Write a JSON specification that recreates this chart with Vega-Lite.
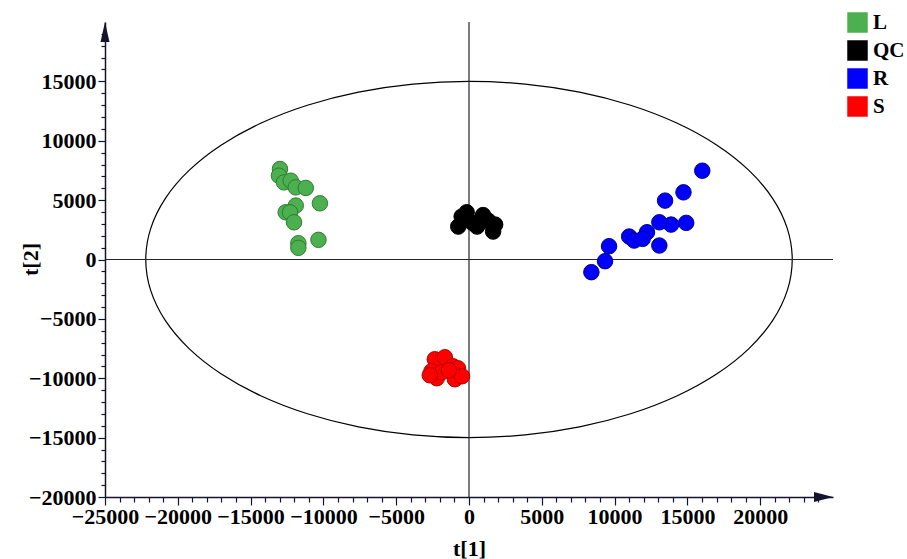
{
  "$schema": "https://vega.github.io/schema/vega-lite/v6.json",
  "width": 728,
  "height": 475,
  "autosize": {"type": "none"},
  "padding": {"left": 105, "top": 22, "right": 74, "bottom": 62},
  "background": "white",
  "config": {"view": {"stroke": null}, "font": "Liberation Serif"},
  "datasets": {
    "pts": [
      {"x": -12983, "y": 7621, "group": "L"},
      {"x": -13052, "y": 7059, "group": "L"},
      {"x": -12707, "y": 6495, "group": "L"},
      {"x": -12244, "y": 6638, "group": "L"},
      {"x": -11899, "y": 6075, "group": "L"},
      {"x": -11208, "y": 6025, "group": "L"},
      {"x": -11899, "y": 4538, "group": "L"},
      {"x": -12590, "y": 3975, "group": "L"},
      {"x": -12293, "y": 3975, "group": "L"},
      {"x": -12017, "y": 3134, "group": "L"},
      {"x": -10242, "y": 4731, "group": "L"},
      {"x": -11720, "y": 1370, "group": "L"},
      {"x": -11720, "y": 983, "group": "L"},
      {"x": -10338, "y": 1655, "group": "L"},
      {"x": -159, "y": 3975, "group": "QC"},
      {"x": -504, "y": 3613, "group": "QC"},
      {"x": -739, "y": 2773, "group": "QC"},
      {"x": 207, "y": 3109, "group": "QC"},
      {"x": 967, "y": 3739, "group": "QC"},
      {"x": 760, "y": 3109, "group": "QC"},
      {"x": 1312, "y": 3277, "group": "QC"},
      {"x": 1796, "y": 2941, "group": "QC"},
      {"x": 1657, "y": 2353, "group": "QC"},
      {"x": 552, "y": 2773, "group": "QC"},
      {"x": 16022, "y": 7479, "group": "R"},
      {"x": 14731, "y": 5655, "group": "R"},
      {"x": 13467, "y": 4958, "group": "R"},
      {"x": 14917, "y": 3084, "group": "R"},
      {"x": 13881, "y": 2941, "group": "R"},
      {"x": 13073, "y": 3134, "group": "R"},
      {"x": 12224, "y": 2294, "group": "R"},
      {"x": 11001, "y": 1933, "group": "R"},
      {"x": 11347, "y": 1597, "group": "R"},
      {"x": 11927, "y": 1739, "group": "R"},
      {"x": 13073, "y": 1176, "group": "R"},
      {"x": 9620, "y": 1118, "group": "R"},
      {"x": 9344, "y": -143, "group": "R"},
      {"x": 8405, "y": -1067, "group": "R"},
      {"x": -2348, "y": -8403, "group": "S"},
      {"x": -1657, "y": -8235, "group": "S"},
      {"x": -2576, "y": -9411, "group": "S"},
      {"x": -2210, "y": -9999, "group": "S"},
      {"x": -1865, "y": -9495, "group": "S"},
      {"x": -1105, "y": -8991, "group": "S"},
      {"x": -760, "y": -9159, "group": "S"},
      {"x": -967, "y": -10084, "group": "S"},
      {"x": -483, "y": -9832, "group": "S"},
      {"x": -1381, "y": -9327, "group": "S"},
      {"x": -2693, "y": -9747, "group": "S"}
    ],
    "ellipse": [
      {"i": 0, "x": 22200, "y": 0},
      {"i": 1, "x": 21863, "y": 2605},
      {"i": 2, "x": 20861, "y": 5130},
      {"i": 3, "x": 19226, "y": 7500},
      {"i": 4, "x": 17006, "y": 9642},
      {"i": 5, "x": 14270, "y": 11491},
      {"i": 6, "x": 11100, "y": 12990},
      {"i": 7, "x": 7593, "y": 14095},
      {"i": 8, "x": 3855, "y": 14772},
      {"i": 9, "x": 0, "y": 15000},
      {"i": 10, "x": -3855, "y": 14772},
      {"i": 11, "x": -7593, "y": 14095},
      {"i": 12, "x": -11100, "y": 12990},
      {"i": 13, "x": -14270, "y": 11491},
      {"i": 14, "x": -17006, "y": 9642},
      {"i": 15, "x": -19226, "y": 7500},
      {"i": 16, "x": -20861, "y": 5130},
      {"i": 17, "x": -21863, "y": 2605},
      {"i": 18, "x": -22200, "y": 0},
      {"i": 19, "x": -21863, "y": -2605},
      {"i": 20, "x": -20861, "y": -5130},
      {"i": 21, "x": -19226, "y": -7500},
      {"i": 22, "x": -17006, "y": -9642},
      {"i": 23, "x": -14270, "y": -11491},
      {"i": 24, "x": -11100, "y": -12990},
      {"i": 25, "x": -7593, "y": -14095},
      {"i": 26, "x": -3855, "y": -14772},
      {"i": 27, "x": 0, "y": -15000},
      {"i": 28, "x": 3855, "y": -14772},
      {"i": 29, "x": 7593, "y": -14095},
      {"i": 30, "x": 11100, "y": -12990},
      {"i": 31, "x": 14270, "y": -11491},
      {"i": 32, "x": 17006, "y": -9642},
      {"i": 33, "x": 19226, "y": -7500},
      {"i": 34, "x": 20861, "y": -5130},
      {"i": 35, "x": 21863, "y": -2605}
    ],
    "lines": [
      {"x": 0, "y": -20000, "x2": 0, "y2": 20000},
      {"x": -25000, "y": 0, "x2": 25000, "y2": 0}
    ],
    "arrowRight": [{"x": 25000, "y": -20000}],
    "arrowUp": [{"x": -25000, "y": 20000}]
  },
  "encoding": {
    "x": {
      "field": "x",
      "type": "quantitative",
      "scale": {"domain": [-25000, 25000], "nice": false, "zero": false},
      "axis": {
        "title": "t[1]",
        "values": [-25000,-24000,-23000,-22000,-21000,-20000,-19000,-18000,-17000,-16000,-15000,-14000,-13000,-12000,-11000,-10000,-9000,-8000,-7000,-6000,-5000,-4000,-3000,-2000,-1000,0,1000,2000,3000,4000,5000,6000,7000,8000,9000,10000,11000,12000,13000,14000,15000,16000,17000,18000,19000,20000,21000,22000,23000,24000],
        "format": "d",
        "labelExpr": "datum.value % 5000 === 0 ? datum.label : ''",
        "labelOverlap": false,
        "labelFlush": false,
        "labelFont": "Liberation Serif",
        "labelFontWeight": "bold",
        "labelFontSize": 22,
        "labelColor": "black",
        "labelPadding": 1,
        "tickSize": {"condition": {"test": "datum.value % 5000 === 0", "value": 8}, "value": 5},
        "tickColor": "#14142e",
        "tickWidth": 1.2,
        "domainColor": "#14142e",
        "domainWidth": 1.5,
        "grid": false,
        "titleFont": "Liberation Serif",
        "titleFontWeight": "bold",
        "titleFontSize": 22,
        "titleColor": "black",
        "titleY": 51,
        "titleBaseline": "middle"
      }
    },
    "y": {
      "field": "y",
      "type": "quantitative",
      "scale": {"domain": [-20000, 20000], "nice": false, "zero": false},
      "axis": {
        "title": "t[2]",
        "values": [-20000,-19000,-18000,-17000,-16000,-15000,-14000,-13000,-12000,-11000,-10000,-9000,-8000,-7000,-6000,-5000,-4000,-3000,-2000,-1000,0,1000,2000,3000,4000,5000,6000,7000,8000,9000,10000,11000,12000,13000,14000,15000,16000,17000,18000,19000],
        "format": "d",
        "labelExpr": "datum.value % 5000 === 0 ? datum.label : ''",
        "labelOverlap": false,
        "labelFlush": false,
        "labelFont": "Liberation Serif",
        "labelFontWeight": "bold",
        "labelFontSize": 22,
        "labelColor": "black",
        "labelPadding": 2,
        "tickSize": {"condition": {"test": "datum.value % 5000 === 0", "value": 7}, "value": 4},
        "tickColor": "#14142e",
        "tickWidth": 1.2,
        "domainColor": "#14142e",
        "domainWidth": 1.5,
        "grid": false,
        "titleFont": "Liberation Serif",
        "titleFontWeight": "bold",
        "titleFontSize": 22,
        "titleColor": "black",
        "titleX": -75,
        "titleY": 237,
        "titleBaseline": "middle",
        "titleAngle": -90
      }
    }
  },
  "layer": [
    {
      "data": {"name": "ellipse"},
      "mark": {"type": "line", "interpolate": "cardinal-closed", "color": "black", "strokeWidth": 1.2},
      "encoding": {"order": {"field": "i", "type": "quantitative"}}
    },
    {
      "data": {"name": "lines"},
      "mark": {"type": "rule", "color": "#222233", "strokeWidth": 1.2},
      "encoding": {"x2": {"field": "x2"}, "y2": {"field": "y2"}}
    },
    {
      "data": {"name": "pts"},
      "mark": {"type": "point", "filled": true, "shape": "circle", "size": 240, "strokeWidth": 1, "opacity": 1},
      "encoding": {
        "fill": {
          "field": "group",
          "type": "nominal",
          "scale": {"domain": ["L", "QC", "R", "S"], "range": ["#4caf50", "#000000", "#0000ff", "#ff0000"]},
          "legend": {
            "title": null,
            "orient": "none",
            "legendX": 742,
            "legendY": -10,
            "symbolType": "square",
            "symbolSize": 420,
            "symbolStrokeWidth": 0,
            "symbolOpacity": 1,
            "labelFont": "Liberation Serif",
            "labelFontWeight": "bold",
            "labelFontSize": 21,
            "labelColor": "black",
            "rowPadding": 6,
            "labelOffset": 5
          }
        },
        "stroke": {
          "field": "group",
          "type": "nominal",
          "scale": {"domain": ["L", "QC", "R", "S"], "range": ["#2e7d32", "#000000", "#00008b", "#b30000"]},
          "legend": null
        }
      }
    },
    {
      "data": {"name": "arrowRight"},
      "mark": {"type": "point", "shape": "M0,0L-1.9,-0.5L-1.9,0.5Z", "size": 400, "filled": true, "color": "#14142e", "opacity": 1, "strokeWidth": 0}
    },
    {
      "data": {"name": "arrowUp"},
      "mark": {"type": "point", "shape": "M0,0L-0.45,2L0.45,2Z", "size": 400, "filled": true, "color": "#14142e", "opacity": 1, "strokeWidth": 0}
    }
  ]
}
